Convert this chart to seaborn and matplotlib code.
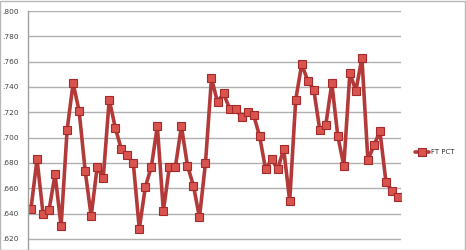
import matplotlib
matplotlib.use("Agg")
import matplotlib.pyplot as plt
import seaborn as sns
import pandas as pd
import numpy as np
from matplotlib.ticker import FuncFormatter

ft_pct = [0.644, 0.683, 0.640, 0.643, 0.671, 0.630, 0.706, 0.743, 0.721, 0.674,
          0.638, 0.677, 0.668, 0.730, 0.708, 0.691, 0.686, 0.680, 0.628, 0.661,
          0.677, 0.709, 0.642, 0.677, 0.677, 0.709, 0.678, 0.662, 0.637, 0.680,
          0.747, 0.728, 0.735, 0.723, 0.723, 0.716, 0.720, 0.718, 0.701, 0.675,
          0.683, 0.675, 0.691, 0.650, 0.730, 0.758, 0.745, 0.738, 0.706, 0.710,
          0.743, 0.701, 0.678, 0.751, 0.737, 0.763, 0.682, 0.694, 0.705, 0.665,
          0.658, 0.653]
games = list(range(len(ft_pct)))
y_ticks = [0.620, 0.640, 0.660, 0.680, 0.700, 0.720, 0.740, 0.760, 0.780, 0.800]
series_name = "FT PCT"

df = pd.DataFrame({"game": games, "pct": ft_pct, "series": series_name})

sns.set_style("white")
fig = plt.figure(figsize=(4.66, 2.5), dpi=100)
ax = fig.add_axes([28/466, 0.0, (401-28)/466, 1 - 11/250])

sns.lineplot(data=df, x="game", y="pct", hue="series", palette=["#b43a3a"],
             marker="s", markersize=5.5, markerfacecolor="#d9534f",
             markeredgecolor="#a52a2a", markeredgewidth=0.8, linewidth=2.6,
             ax=ax)

ax.set_xlim(-0.5, len(ft_pct) - 0.5)
ax.set_ylim(0.620 - 11/25.33*0.02, 0.800)
ax.set_yticks(y_ticks)
ax.yaxis.set_major_formatter(FuncFormatter(lambda v, p: ("%.3f" % v).lstrip("0")))
ax.set_xticks([])
ax.grid(axis="y", color="#b0b0b0", linewidth=1.0)
ax.set_axisbelow(True)
for s in ["top", "right", "bottom"]:
    ax.spines[s].set_visible(False)
ax.spines["left"].set_color("#a0a0a0")
ax.spines["left"].set_linewidth(1.0)
ax.tick_params(axis="y", labelsize=5.3, colors="#444444", length=0, pad=6.5)
ax.set_xlabel("")
ax.set_ylabel("")

leg = ax.legend(loc="center left", bbox_to_anchor=(1.02, 0.41), frameon=False,
                fontsize=5, handlelength=2.0, handletextpad=0.3)
for t in leg.get_texts():
    t.set_color("#333333")

# outer border of the chart area
fig.patches.append(plt.Rectangle((0.001, 0.0), 0.997, 0.997, transform=fig.transFigure,
                                 fill=False, edgecolor="#b8b8b8", linewidth=1.0))

fig.savefig("out.png", dpi=100)
